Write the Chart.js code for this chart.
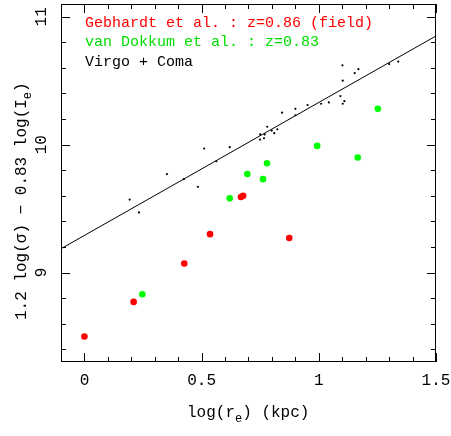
<!DOCTYPE html><html><head><meta charset="utf-8">
<script src="https://cdn.jsdelivr.net/npm/chart.js@4"></script>
<style>html,body{margin:0;background:#fff}canvas{display:block}</style></head><body>
<div style="width:451px;height:436px"><canvas id="c"></canvas></div>
<script>
const gebX=[0.0,0.21,0.426,0.536,0.668,0.677,0.874];
const gebY=[8.50,8.77,9.07,9.30,9.59,9.60,9.27];
const vdkX=[0.247,0.62,0.695,0.762,0.779,0.993,1.166,1.252];
const vdkY=[8.83,9.58,9.77,9.73,9.855,9.99,9.90,10.28];
const vcX=[0.193,0.233,0.484,0.352,0.424,0.511,0.563,0.62,0.749,0.766,0.75,0.769,0.78,0.799,0.81,0.823,0.843,0.9,0.9,0.952,1.01,1.043,1.092,1.101,1.102,1.109,1.102,1.153,1.169,1.30,1.339];
const vcY=[9.57,9.47,9.67,9.77,9.73,9.97,9.87,9.98,10.04,10.05,10.08,10.08,10.14,10.11,10.09,10.12,10.25,10.23,10.28,10.31,10.32,10.33,10.38,10.62,10.50,10.34,10.32,10.56,10.59,10.63,10.65];
const fitX=[-0.1,1.5];
const fitY=[9.186,10.85];
const xTicks=[0,0.5,1,1.5];
const yTicks=[9,10,11];
const pts=(xs,ys)=>xs.map((x,i)=>({x,y:ys[i]}));
const F='"Liberation Mono", monospace';
const deco={id:'deco',afterDraw(ch){
 const c=ch.ctx,a=ch.chartArea,xs=ch.scales.x,ys=ch.scales.y;
 c.save();c.strokeStyle='#000';c.lineWidth=1;
 c.strokeRect(a.left+0.5,a.top+0.5,a.right-a.left-1,a.bottom-a.top-1);
 c.beginPath();
 for(let i=-1;i<=15;i++){const v=i/10,p=Math.round(xs.getPixelForValue(v))+0.5;const L=(i%5===0)?9:5;
  c.moveTo(p,a.bottom);c.lineTo(p,a.bottom-L);c.moveTo(p,a.top);c.lineTo(p,a.top+L);}
 for(let i=42;i<=55;i++){const v=i/5,p=Math.round(ys.getPixelForValue(v))+0.5;if(p<a.top||p>a.bottom)continue;const L=(i%5===0)?9:5;
  c.moveTo(a.left,p);c.lineTo(a.left+L,p);c.moveTo(a.right,p);c.lineTo(a.right-L,p);}
 c.stroke();
 c.fillStyle='#000';c.font='16px '+F;c.textAlign='center';c.textBaseline='middle';
 xTicks.forEach(v=>c.fillText(String(v),xs.getPixelForValue(v),381));
 yTicks.forEach(v=>{c.save();c.translate(42,ys.getPixelForValue(v));c.rotate(-Math.PI/2);c.fillText(String(v),0,0);c.restore();});
 // x title
 c.textAlign='left';c.textBaseline='alphabetic';
 let x=187,y=417;
 c.fillText('log(r',x,y);x+=c.measureText('log(r').width;
 c.font='12px '+F;c.fillText('e',x,y+5);x+=c.measureText('e').width;
 c.font='16px '+F;c.fillText(') (kpc)',x,y);
 // y title
 c.save();c.translate(26,320);c.rotate(-Math.PI/2);
 x=0;y=0;let s='1.2 log(σ) − 0.83 log(I';c.fillText(s,x,y);x+=c.measureText(s).width;
 c.font='12px '+F;c.fillText('e',x,y+5);x+=c.measureText('e').width;
 c.font='16px '+F;c.fillText(')',x,y);c.restore();
 // legend
 c.font='15px '+F;c.textBaseline='middle';
 c.fillStyle='#ff0000';c.fillText('Gebhardt et al. : z=0.86 (field)',85,23);
 c.fillStyle='#00e000';c.fillText('van Dokkum et al. : z=0.83',85,42);
 c.fillStyle='#000';c.fillText('Virgo + Coma',85,62);
 c.restore();
}};
new Chart(document.getElementById('c'),{type:'scatter',
 data:{datasets:[
  {type:'line',data:pts(fitX,fitY),borderColor:'#000',borderWidth:1,pointRadius:0,tension:0},
  {data:pts(vcX,vcY),backgroundColor:'#000',borderWidth:0,pointRadius:1.1},
  {data:pts(vdkX,vdkY),backgroundColor:'#00ff00',borderWidth:0,pointRadius:3.3},
  {data:pts(gebX,gebY),backgroundColor:'#ff0000',borderWidth:0,pointRadius:3.3}]},
 options:{responsive:true,maintainAspectRatio:false,animation:false,
  layout:{padding:{left:61,right:15,top:1,bottom:74}},
  plugins:{legend:{display:false},tooltip:{enabled:false}},
  scales:{x:{type:'linear',min:-0.1,max:1.5,display:false},y:{type:'linear',min:8.3,max:11.1,display:false}}},
 plugins:[deco]});
</script></body></html>
